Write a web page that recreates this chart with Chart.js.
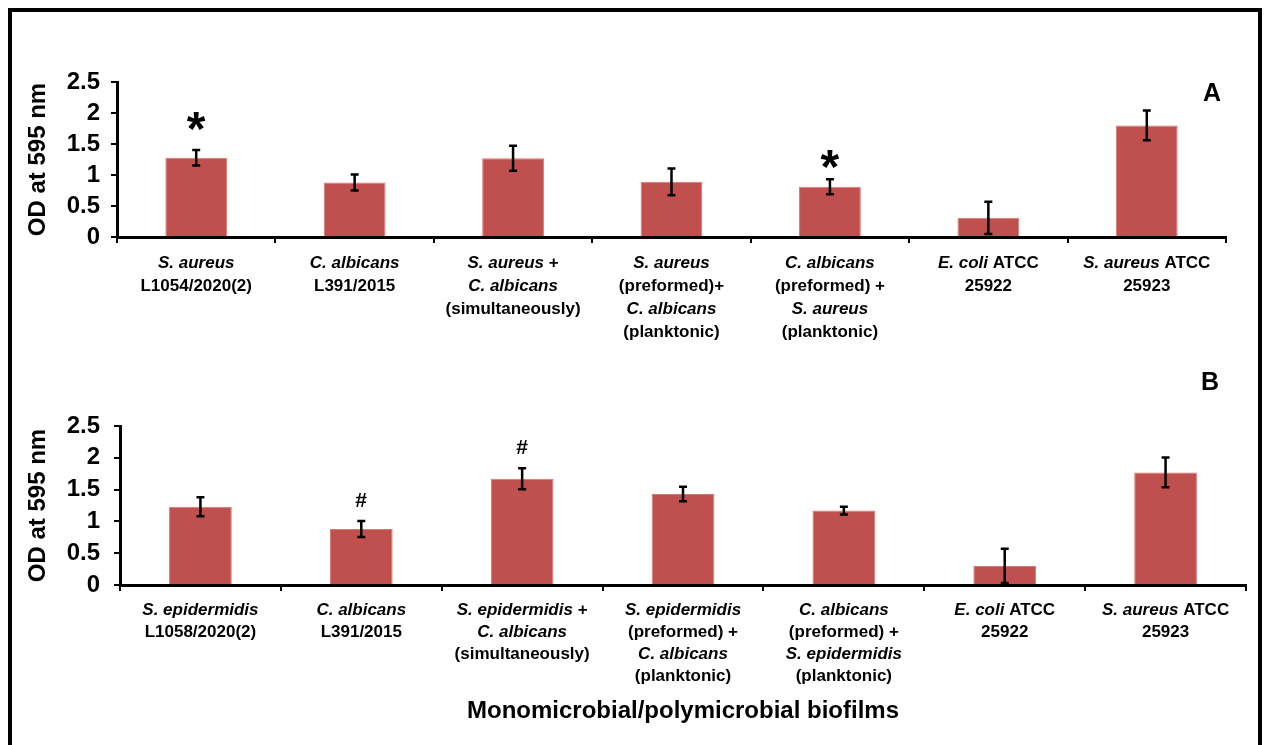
<!DOCTYPE html>
<html>
<head>
<meta charset="utf-8">
<script src="https://cdn.jsdelivr.net/npm/chart.js@4.4.1/dist/chart.umd.min.js"></script>
<style>
  body { margin: 0; background: #fff; width: 1264px; height: 745px; overflow: hidden; position: relative; }
  #frame { position: absolute; left: 8px; top: 8px; width: 1246px; height: 800px; border: 4px solid #000; }
  canvas { position: absolute; left: 0; }
  #chart_a { top: 0; }
  #chart_b { top: 345px; }
</style>
</head>
<body>
<div id="frame"></div>
<canvas id="chart_a" width="1264" height="345"></canvas>
<canvas id="chart_b" width="1264" height="400"></canvas>
<script>
// words between * * are italic (species names)
const labelsA = [
  ["*S. aureus*", "L1054/2020(2)"],
  ["*C. albicans*", "L391/2015"],
  ["*S. aureus* +", "*C. albicans*", "(simultaneously)"],
  ["*S. aureus*", "(preformed)+", "*C. albicans*", "(planktonic)"],
  ["*C. albicans*", "(preformed) +", "*S. aureus*", "(planktonic)"],
  ["*E. coli* ATCC", "25922"],
  ["*S. aureus* ATCC", "25923"]
];
const labelsB = [
  ["*S. epidermidis*", "L1058/2020(2)"],
  ["*C. albicans*", "L391/2015"],
  ["*S. epidermidis* +", "*C. albicans*", "(simultaneously)"],
  ["*S. epidermidis*", "(preformed) +", "*C. albicans*", "(planktonic)"],
  ["*C. albicans*", "(preformed) +", "*S. epidermidis*", "(planktonic)"],
  ["*E. coli* ATCC", "25922"],
  ["*S. aureus* ATCC", "25923"]
];

const meansA  = [1.28, 0.88, 1.27, 0.89, 0.81, 0.31, 1.80];
const errorsA = [0.125, 0.13, 0.20, 0.215, 0.12, 0.26, 0.24];
const marksA  = ["*", "", "", "", "*", "", ""];
const markLevelsA = [1.73, null, null, null, 1.12, null, null];

const meansB  = [1.23, 0.88, 1.67, 1.43, 1.17, 0.30, 1.77];
const errorsB = [0.15, 0.125, 0.165, 0.115, 0.06, 0.27, 0.235];
const marksB  = ["", "#", "#", "", "", "", ""];
const markLevelsB = [null, 1.23, 2.06, null, null, null, null];

const yTicks = [0, 0.5, 1, 1.5, 2, 2.5];
const yTickLabels = ["0", "0.5", "1", "1.5", "2", "2.5"];

const fontFamily = '"Liberation Sans", Arial, sans-serif';
Chart.defaults.font.family = fontFamily;
Chart.defaults.color = '#000';

function drawRichLine(ctx, line, cx, cy) {
  let parts = line.split('*').map(function(t, i) { return {text: t, italic: i % 2 == 1}; }).filter(function(p) { return p.text.length > 0; });
  let total = 0;
  parts.forEach(function(p) {
    ctx.font = (p.italic ? 'italic ' : '') + 'bold 17px ' + fontFamily;
    p.w = ctx.measureText(p.text).width;
    total += p.w;
  });
  let xx = cx - total / 2;
  parts.forEach(function(p) {
    ctx.font = (p.italic ? 'italic ' : '') + 'bold 17px ' + fontFamily;
    ctx.fillText(p.text, xx, cy);
    xx += p.w;
  });
}

const overlayPlugin = {
  id: 'overlay',
  afterDatasetsDraw(chart, args, opts) {
    const ctx = chart.ctx;
    const xs = chart.scales.x;
    const ys = chart.scales.y;
    ctx.save();

    // error bars
    ctx.strokeStyle = '#000';
    ctx.lineWidth = 2.5;
    opts.means.forEach(function(m, i) {
      let px = xs.getPixelForValue(i);
      let top = ys.getPixelForValue(m + opts.errors[i]);
      let bot = ys.getPixelForValue(Math.max(m - opts.errors[i], 0));
      ctx.beginPath();
      ctx.moveTo(px, top); ctx.lineTo(px, bot);
      ctx.moveTo(px - 4, top); ctx.lineTo(px + 4, top);
      ctx.moveTo(px - 4, bot); ctx.lineTo(px + 4, bot);
      ctx.stroke();
    });

    // significance marks
    ctx.fillStyle = '#000';
    ctx.textAlign = 'left';
    ctx.textBaseline = 'alphabetic';
    opts.marks.forEach(function(mk, i) {
      if (!mk) return;
      ctx.font = (mk == '*' ? 'bold 48px ' : 'bold 21px ') + fontFamily;
      let mt = ctx.measureText(mk);
      let px = xs.getPixelForValue(i);
      let bottom = ys.getPixelForValue(opts.markLevels[i]);
      let gx = px - (mt.actualBoundingBoxRight - mt.actualBoundingBoxLeft) / 2 + mt.actualBoundingBoxLeft;
      ctx.fillText(mk, gx, bottom - mt.actualBoundingBoxDescent);
    });

    // category labels
    ctx.textBaseline = 'middle';
    opts.labels.forEach(function(lines, i) {
      let px = xs.getPixelForValue(i);
      lines.forEach(function(line, j) {
        drawRichLine(ctx, line, px, xs.top + opts.labelOffset + j * opts.lineGap);
      });
    });

    // panel letter
    ctx.font = 'bold 25px ' + fontFamily;
    ctx.textAlign = 'center';
    ctx.fillText(opts.letter, opts.letterX, opts.letterY);
    ctx.restore();
  }
};

function makePanel(canvasId, labels, means, errors, marks, markLevels, geo) {
  return new Chart(document.getElementById(canvasId), {
    type: 'bar',
    data: {
      labels: labels.map(function(l) { return l.join(' ').replace(/\*/g, ''); }),
      datasets: [{
        data: means,
        backgroundColor: '#c0504d',
        borderColor: '#d47a77',
        borderWidth: 1,
        barPercentage: 0.39,
        categoryPercentage: 1
      }]
    },
    options: {
      responsive: false,
      animation: false,
      layout: { padding: geo.padding },
      plugins: {
        legend: { display: false },
        tooltip: { enabled: false },
        overlay: {
          labels: labels, means: means, errors: errors, marks: marks, markLevels: markLevels,
          labelOffset: geo.labelOffset, lineGap: geo.lineGap,
          letter: geo.letter, letterX: geo.letterX, letterY: geo.letterY
        }
      },
      scales: {
        x: {
          grid: { display: true, drawOnChartArea: false, drawTicks: true, tickLength: 6, color: '#000', lineWidth: 2, offset: true },
          border: { display: true, color: '#000', width: 3 },
          ticks: { display: false },
          title: geo.xTitle,
          afterFit: function(scale) { scale.height = geo.xHeight; }
        },
        y: {
          min: 0,
          max: 2.5,
          afterBuildTicks: function(scale) { scale.ticks = yTicks.map(function(v) { return {value: v}; }); },
          grid: { display: true, drawOnChartArea: false, drawTicks: true, tickLength: 6, color: '#000', lineWidth: 2 },
          border: { display: true, color: '#000', width: 3 },
          ticks: {
            autoSkip: false,
            font: { size: 24, weight: 'bold' }, color: '#000', padding: geo.tickPad,
            callback: function(value, index) { return yTickLabels[index]; }
          },
          title: { display: true, text: 'OD at 595 nm', font: { size: 24, weight: 'bold' }, color: '#000', padding: { top: 24, bottom: 0 } },
          afterFit: function(scale) { scale.width = geo.yWidth; }
        }
      }
    },
    plugins: [overlayPlugin]
  });
}

makePanel('chart_a', labelsA, meansA, errorsA, marksA, markLevelsA, {
  padding: { top: 82, right: 38, left: 0, bottom: 0 },
  yWidth: 117, xHeight: 108, tickPad: 11,
  labelOffset: 26, lineGap: 23,
  letter: 'A', letterX: 1212, letterY: 94,
  xTitle: { display: false }
});

makePanel('chart_b', labelsB, meansB, errorsB, marksB, markLevelsB, {
  padding: { top: 81, right: 18, left: 0, bottom: 0 },
  yWidth: 120, xHeight: 160, tickPad: 14,
  labelOffset: 25, lineGap: 22,
  letter: 'B', letterX: 1210, letterY: 38,
  xTitle: { display: true, text: 'Monomicrobial/polymicrobial biofilms', font: { size: 24, weight: 'bold' }, color: '#000', padding: { top: 0, bottom: 19 } }
});
</script>
</body>
</html>
